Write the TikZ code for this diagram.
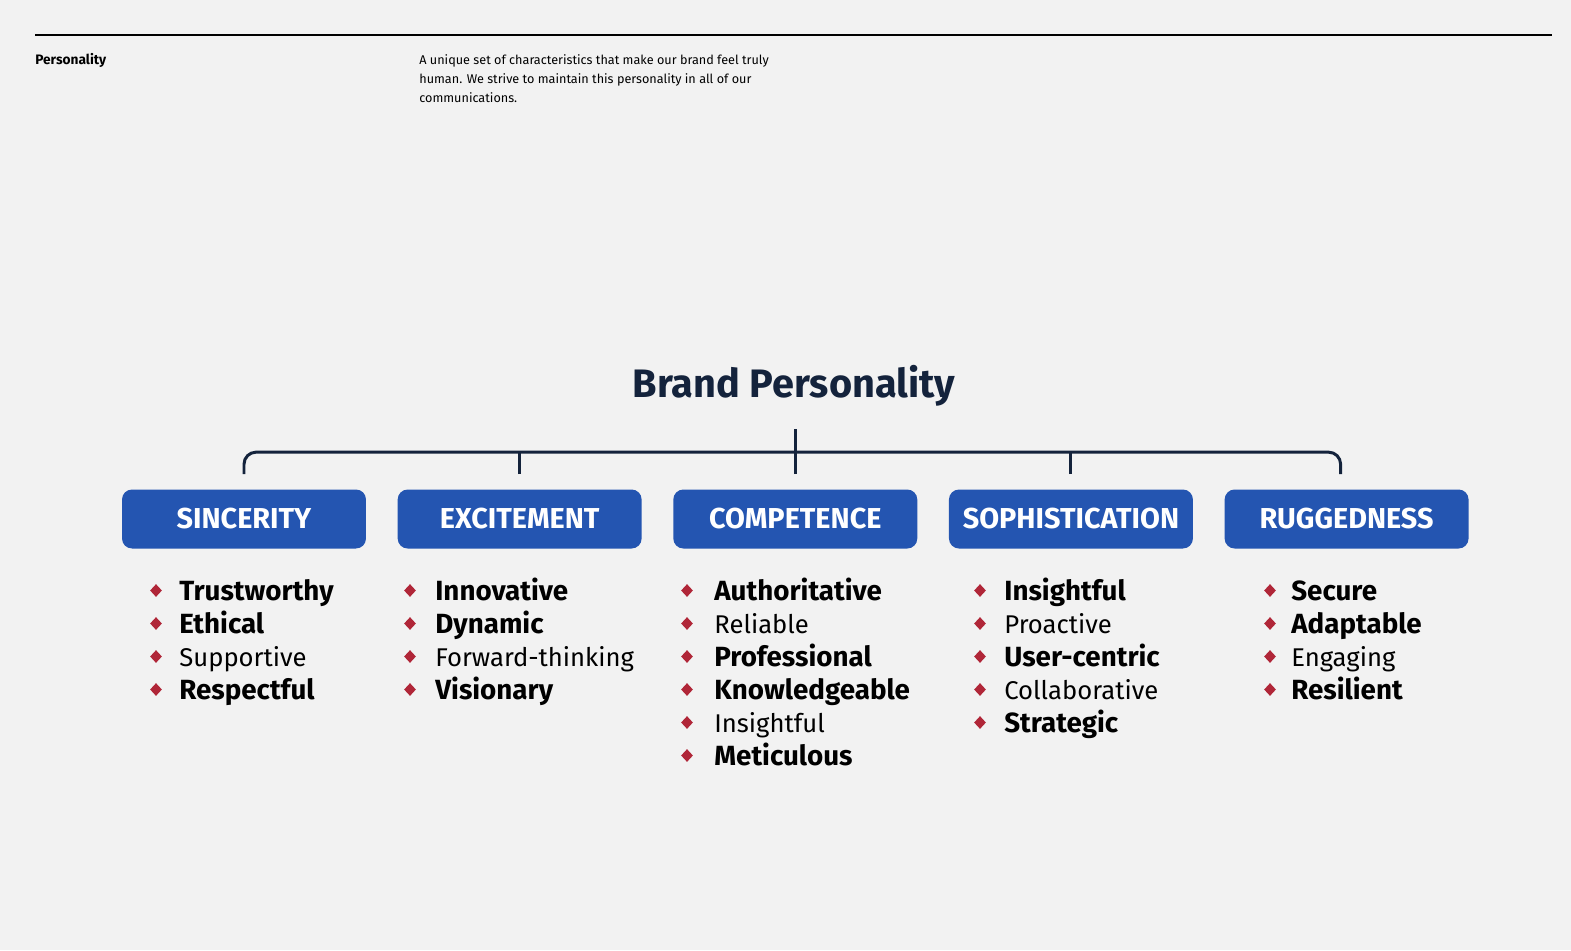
\documentclass[tikz,border=0pt]{standalone}
\usepackage{fontspec}
\setmainfont{Fira Sans}
\usetikzlibrary{positioning, shapes.geometric}

\definecolor{pagebg}{HTML}{F2F2F2}
\definecolor{brandblue}{HTML}{2455B1}
\definecolor{navy}{HTML}{14233C}
\definecolor{bulletred}{HTML}{B02638}

\begin{document}
\begin{tikzpicture}[
        x=0.02cm, y=-0.02cm,
        node distance=0.62cm,
        catbox/.style={rectangle, fill=brandblue, rounded corners=0.2cm, minimum width=4.88cm, minimum height=1.18cm, inner sep=0pt, text=white, font=\fontsize{16.4}{19}\selectfont\bfseries},
        bracket/.style={draw=navy, line width=1.7pt, rounded corners=0.24cm},
        itemtext/.style={anchor=base west, inner sep=0pt, font=\fontsize{14.6}{18}\selectfont},
        strong/.style={font=\fontsize{15.8}{18}\selectfont\bfseries},
        plain/.style={},
        bullet/.style={diamond, fill=bulletred, minimum width=0.24cm, minimum height=0.26cm, inner sep=0pt}
    ]
        % --- PAGE ---
        \fill[pagebg] (0,0) rectangle (1571,950);
        \draw[black, line width=0.6pt] (35,35) -- (1552,35);
        \node[anchor=base west, inner sep=0pt, font=\fontsize{7.8}{10}\selectfont\bfseries] (section) at (35,64) {Personality};
        \node[anchor=north west, inner sep=0pt, align=left, font=\fontsize{7.2}{10.8}\selectfont] (intro) at (419,54) {A unique set of characteristics that make our brand feel truly\\human. We strive to maintain this personality in all of our\\communications.};

        % --- TITLE ---
        \node[anchor=base, inner sep=0pt, text=navy, font=\fontsize{22.6}{26}\selectfont\bfseries] (title) at (794,397) {Brand Personality};

        % --- DIMENSIONS ---
        \node[catbox] (sincerity) at (244,519) {SINCERITY};
        \node[catbox, right=of sincerity] (excitement) {EXCITEMENT};
        \node[catbox, right=of excitement] (competence) {COMPETENCE};
        \node[catbox, right=of competence] (sophistication) {SOPHISTICATION};
        \node[catbox, right=of sophistication] (ruggedness) {RUGGEDNESS};

        % --- BRACKET ---
        \coordinate (barleft) at ([yshift=0.3cm]sincerity.north);
        \coordinate (barright) at ([xshift=-0.12cm, yshift=0.3cm]ruggedness.north);
        \coordinate (bartop) at ([yshift=0.74cm]competence.north);
        \coordinate (stemtop) at ([yshift=1.2cm]competence.north);
        \draw[bracket] (barleft) |- (bartop) -| (barright);
        \draw[bracket] ([yshift=0.3cm]excitement.north) -- (excitement.north |- bartop);
        \draw[bracket] ([yshift=0.3cm]sophistication.north) -- (sophistication.north |- bartop);
        \draw[bracket] ([yshift=0.3cm]competence.north) -- (stemtop);

        % --- TRAITS ---
        \foreach \word/\wt [count=\i] in {Trustworthy/strong, Ethical/strong, Supportive/plain, Respectful/strong} {
            \node[itemtext, \wt] (sin\i) at (179,{600+33*(\i-1)}) {\word};
            \node[bullet] at ([xshift=-0.46cm, yshift=0.19cm]sin\i.base west) {};
        }
        \foreach \word/\wt [count=\i] in {Innovative/strong, Dynamic/strong, Forward-thinking/plain, Visionary/strong} {
            \node[itemtext, \wt] (exc\i) at (435,{600+33*(\i-1)}) {\word};
            \node[bullet] at ([xshift=-0.5cm, yshift=0.19cm]exc\i.base west) {};
        }
        \foreach \word/\wt [count=\i] in {Authoritative/strong, Reliable/plain, Professional/strong, Knowledgeable/strong, Insightful/plain, Meticulous/strong} {
            \node[itemtext, \wt] (com\i) at (714,{600+33*(\i-1)}) {\word};
            \node[bullet] at ([xshift=-0.54cm, yshift=0.19cm]com\i.base west) {};
        }
        \foreach \word/\wt [count=\i] in {Insightful/strong, Proactive/plain, User-centric/strong, Collaborative/plain, Strategic/strong} {
            \node[itemtext, \wt] (sop\i) at (1004,{600+33*(\i-1)}) {\word};
            \node[bullet] at ([xshift=-0.48cm, yshift=0.19cm]sop\i.base west) {};
        }
        \foreach \word/\wt [count=\i] in {Secure/strong, Adaptable/strong, Engaging/plain, Resilient/strong} {
            \node[itemtext, \wt] (rug\i) at (1291,{600+33*(\i-1)}) {\word};
            \node[bullet] at ([xshift=-0.42cm, yshift=0.19cm]rug\i.base west) {};
        }
    \end{tikzpicture}
\end{document}
